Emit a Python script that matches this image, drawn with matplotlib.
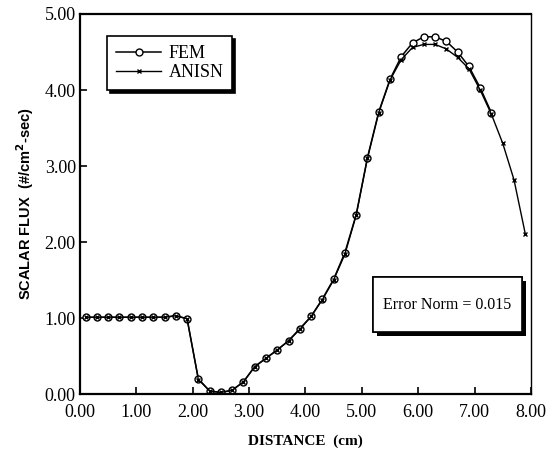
import matplotlib
matplotlib.use("Agg")
import matplotlib.pyplot as plt
import matplotlib.patheffects as pe
from matplotlib.patches import Rectangle

# data (cell-centre values)
fem_x = [0.1, 0.3, 0.5, 0.7, 0.9, 1.1, 1.3, 1.5, 1.7, 1.9,
         2.1, 2.3, 2.5, 2.7, 2.9, 3.1, 3.3, 3.5, 3.7, 3.9,
         4.1, 4.3, 4.5, 4.7, 4.9, 5.1, 5.3, 5.5, 5.7, 5.9,
         6.1, 6.3, 6.5, 6.7, 6.9, 7.1, 7.3]
fem_y = [1.01, 1.01, 1.01, 1.01, 1.01, 1.01, 1.01, 1.01, 1.03, 0.99,
         0.20, 0.04, 0.02, 0.05, 0.16, 0.36, 0.47, 0.58, 0.70, 0.86,
         1.02, 1.25, 1.51, 1.86, 2.36, 3.11, 3.71, 4.14, 4.44, 4.62,
         4.70, 4.70, 4.64, 4.50, 4.31, 4.03, 3.70]

anisn_x = [0.1, 0.3, 0.5, 0.7, 0.9, 1.1, 1.3, 1.5, 1.7, 1.9,
           2.1, 2.3, 2.5, 2.7, 2.9, 3.1, 3.3, 3.5, 3.7, 3.9,
           4.1, 4.3, 4.5, 4.7, 4.9, 5.1, 5.3, 5.5, 5.7, 5.9,
           6.1, 6.3, 6.5, 6.7, 6.9, 7.1, 7.3, 7.5, 7.7, 7.9]
anisn_y = [1.01, 1.01, 1.01, 1.01, 1.01, 1.01, 1.01, 1.01, 1.03, 0.99,
           0.19, 0.04, 0.02, 0.05, 0.16, 0.36, 0.47, 0.58, 0.70, 0.85,
           1.02, 1.24, 1.50, 1.84, 2.35, 3.10, 3.70, 4.13, 4.40, 4.56,
           4.60, 4.60, 4.54, 4.43, 4.28, 4.00, 3.68, 3.30, 2.82, 2.11]

x_ticks = [0, 1, 2, 3, 4, 5, 6, 7, 8]
y_ticks = [0, 1, 2, 3, 4, 5]
error_label = "Error Norm = 0.015"

plt.rcParams["font.family"] = ["Liberation Serif", "DejaVu Serif"]

fig = plt.figure(figsize=(5.49, 4.59), dpi=100)
ax = fig.add_axes([0.1457, 0.1416, 0.8213, 0.8279])

ax.plot(fem_x, fem_y, color="black", lw=1.1, marker="o", ms=5,
        mfc="white", mec="black", mew=1.0, label="FEM")
ax.plot(anisn_x, anisn_y, color="black", lw=1.0, marker="x", ms=3.5,
        mew=1.0, label="ANISN")

ax.set_xlim(0, 8)
ax.set_ylim(0, 5)
ax.set_xticks(x_ticks)
ax.set_yticks(y_ticks)
ax.set_xticklabels([f"{v:.2f}" for v in x_ticks], fontsize=13)
ax.set_yticklabels([f"{v:.2f}" for v in y_ticks], fontsize=13)
ax.tick_params(direction="in", length=5, width=1.2)
ax.tick_params(axis="x", pad=7)
ax.tick_params(axis="y", pad=3)

for side in ["left", "top", "bottom"]:
    ax.spines[side].set_linewidth(1.6)
ax.spines["right"].set_linewidth(1.0)

ax.set_xlabel("DISTANCE  (cm)", fontsize=11, fontweight="bold", labelpad=10)
ax.set_ylabel("SCALAR FLUX  (#/cm$^\\mathbf{2}$-sec)", fontsize=10.5,
              fontweight="bold", family=["Liberation Sans", "DejaVu Sans"],
              labelpad=6)

leg = ax.legend(loc="upper left", bbox_to_anchor=(0.04, 0.965),
                frameon=True, fancybox=False, edgecolor="black",
                shadow={"color": "black", "alpha": 1.0},
                fontsize=13, handlelength=2.5, handletextpad=0.4,
                borderpad=0.5, labelspacing=0.1)
leg.get_frame().set_linewidth(1.2)

# boxed annotation with drop shadow
box = Rectangle((0.65, 0.163), 0.33, 0.145, transform=ax.transAxes,
                fc="white", ec="black", lw=1.2, zorder=4)
box.set_path_effects([
    pe.withSimplePatchShadow(offset=(3, -3), shadow_rgbFace="black", alpha=1.0),
    pe.Normal()])
ax.add_patch(box)
ax.text(0.815, 0.2355, error_label, transform=ax.transAxes, fontsize=11.5,
        ha="center", va="center", zorder=5)

fig.savefig("out.png", dpi=100)
